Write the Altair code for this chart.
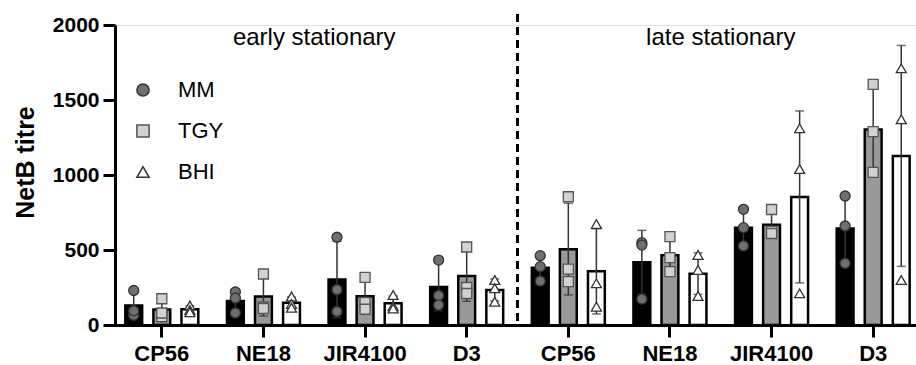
import altair as alt
import pandas as pd

# ---------------- data ----------------
phases = ["early", "late"]
phase_titles = ["early stationary", "late stationary"]
strains = ["CP56", "NE18", "JIR4100", "D3"]
media = ["MM", "TGY", "BHI"]

# replicate NetB titres, one list of 3 per phase/strain (early CP56..D3, late CP56..D3)
mm_values = [
    [230, 65, 95], [220, 180, 80], [585, 235, 90], [433, 196, 133],
    [462, 389, 293], [549, 533, 173], [771, 649, 527], [860, 660, 411],
]
tgy_values = [
    [175, 55, 80], [340, 120, 110], [318, 150, 105], [520, 250, 210],
    [855, 373, 289], [589, 449, 356], [770, 625, 610], [1604, 1289, 1018],
]
bhi_values = [
    [130, 100, 85], [190, 140, 115], [200, 125, 110], [300, 245, 155],
    [673, 278, 122], [467, 367, 193], [1311, 1040, 211], [1711, 1371, 300],
]

y_ticks = [0, 500, 1000, 1500, 2000]

groups = [f"{p}|{s}" for p in phases for s in strains]
rows = []
for m, vals in zip(media, [mm_values, tgy_values, bhi_values]):
    for g, reps in zip(groups, vals):
        for r, v in enumerate(reps):
            rows.append({"group": g, "media": m, "rep": r, "value": v})
df = pd.DataFrame(rows)

phase_df = pd.DataFrame({
    "group": [f"{p}|JIR4100" for p in phases],
    "label": phase_titles,
})
divider_df = pd.DataFrame({"group": [f"{phases[1]}|{strains[0]}"]})
legend_df = pd.DataFrame({"media": media})

FONT = "Liberation Sans"

x_scale = alt.Scale(domain=groups, range=[-4, 809], paddingInner=0, paddingOuter=0)
xo_scale = alt.Scale(domain=media, paddingInner=0.40, paddingOuter=0.51)
y_scale = alt.Scale(domain=[0, 2000], nice=False)

shape_scale = alt.Scale(domain=media, range=["circle", "square", "triangle-up"])
pfill_scale = alt.Scale(domain=media, range=["#6f6f6f", "#d2d2d2", "#ffffff"])
pstroke_scale = alt.Scale(domain=media, range=["#333333", "#555555", "#333333"])

x_axis = alt.Axis(
    title=None, labelExpr="split(datum.label, '|')[1]", labelAngle=0,
    labelFont=FONT, labelFontSize=22, labelFontWeight="bold", labelColor="black",
    tickSize=12, tickWidth=3, tickColor="black", domainWidth=3, domainColor="black",
    labelPadding=6,
)
y_axis = alt.Axis(
    title="NetB titre", values=y_ticks, grid=False, format="d",
    labelFont=FONT, labelFontSize=21, labelFontWeight="bold", labelColor="black",
    titleFont=FONT, titleFontSize=25, titleFontWeight="bold", titleColor="black",
    tickSize=12, tickWidth=3, tickColor="black", domainWidth=3, domainColor="black",
    labelPadding=4, titlePadding=14, titleY=137,
)

X = alt.X("group:N", scale=x_scale, axis=x_axis, sort=groups)
XO = alt.XOffset("media:N", scale=xo_scale, sort=media)

base = alt.Chart(df)

bars = base.mark_bar(stroke="black", strokeWidth=2.5).encode(
    x=X,
    xOffset=XO,
    y=alt.Y("mean(value):Q", scale=y_scale, axis=y_axis),
    fill=alt.Fill("media:N", sort=media,
                  scale=alt.Scale(domain=media, range=["#000000", "#999999", "#ffffff"]),
                  legend=None),
)

stats = base.transform_aggregate(
    mean="mean(value)", sd="stdev(value)", groupby=["group", "media"]
).transform_calculate(
    lo="datum.mean - datum.sd", hi="datum.mean + datum.sd"
)

err_rule = stats.mark_rule(color="#333333", strokeWidth=1.5).encode(
    x=X, xOffset=XO,
    y=alt.Y("lo:Q", scale=y_scale), y2="hi:Q",
)
err_hi = stats.mark_tick(color="#333333", thickness=1.5, size=9, orient="horizontal").encode(
    x=X, xOffset=XO, y=alt.Y("hi:Q", scale=y_scale),
)
err_lo = stats.mark_tick(color="#333333", thickness=1.5, size=9, orient="horizontal").encode(
    x=X, xOffset=XO, y=alt.Y("lo:Q", scale=y_scale),
)

points = base.mark_point(filled=True, size=100, strokeWidth=1.3, opacity=1).encode(
    x=X, xOffset=XO,
    y=alt.Y("value:Q", scale=y_scale),
    shape=alt.Shape("media:N", sort=media, scale=shape_scale, legend=None),
    fill=alt.Fill("media:N", sort=media, scale=pfill_scale, legend=None),
    stroke=alt.Stroke("media:N", sort=media, scale=pstroke_scale, legend=None),
)

divider = alt.Chart(divider_df).mark_rule(
    color="black", strokeWidth=3, strokeDash=[8, 5]
).encode(
    x=alt.X("group:N", scale=x_scale, bandPosition=0, sort=groups),
    y=alt.value(-11), y2=alt.value(300),
)

phase_text = alt.Chart(phase_df).mark_text(
    font=FONT, fontSize=24, color="black", baseline="alphabetic", align="center"
).encode(
    x=alt.X("group:N", scale=x_scale, bandPosition=0, sort=groups),
    y=alt.value(20),
    text="label:N",
)

# manual legend (upper left)
legend_y = alt.Y("media:N", sort=media, axis=None,
                 scale=alt.Scale(domain=media, range=[65, 147], padding=0))
legend_sym = alt.Chart(legend_df).mark_point(
    filled=True, size=150, strokeWidth=1.5, opacity=1
).encode(
    x=alt.value(28),
    y=legend_y,
    shape=alt.Shape("media:N", sort=media, scale=shape_scale, legend=None),
    fill=alt.Fill("media:N", sort=media, scale=pfill_scale, legend=None),
    stroke=alt.Stroke("media:N", sort=media, scale=pstroke_scale, legend=None),
)
legend_txt = alt.Chart(legend_df).mark_text(
    font=FONT, fontSize=22, color="black", align="left", baseline="middle"
).encode(
    x=alt.value(63),
    y=legend_y,
    text="media:N",
)
legend_layer = alt.layer(legend_sym, legend_txt)

main = alt.layer(
    bars, err_rule, err_hi, err_lo, points, divider, phase_text
).resolve_scale(fill="independent")

chart = alt.layer(main, legend_layer).resolve_scale(
    fill="independent", y="independent"
).properties(
    width=801, height=300,
    autosize=alt.AutoSizeParams(type="none"),
    padding={"left": 115, "top": 25, "right": 0, "bottom": 40},
).configure_view(stroke=None).configure(background="white")

chart.save("out.html", embed_options={"renderer": "svg", "actions": False})
